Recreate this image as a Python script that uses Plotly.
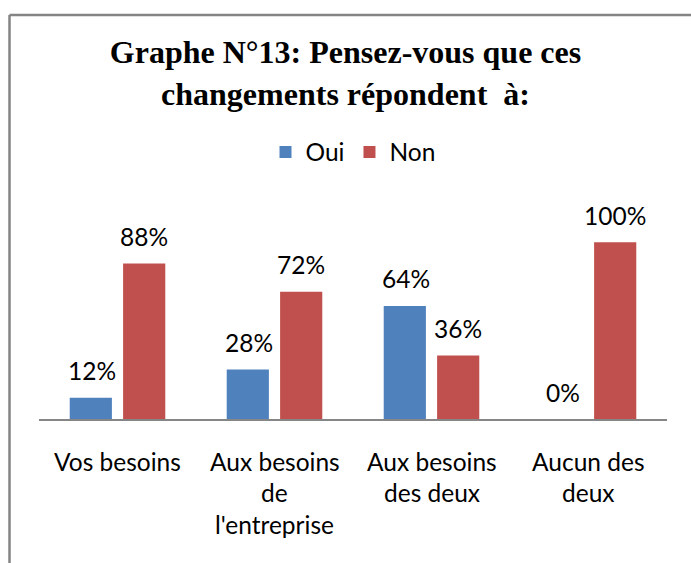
import plotly.graph_objects as go

categories = ["Vos besoins", "Aux besoins de l'entreprise", "Aux besoins des deux", "Aucun des deux"]
tick_lines = [["Vos besoins"], ["Aux besoins", "de", "l'entreprise"], ["Aux besoins", "des deux"], ["Aucun des", "deux"]]
oui = [0.12, 0.28, 0.64, 0.00]
non = [0.88, 0.72, 0.36, 1.00]
series_names = ["Oui", "Non"]
colors = ["#4F81BD", "#C0504D"]
title_text = "<b>Graphe N°13: Pensez-vous que ces<br>changements répondent  à:</b>"

W, H = 691, 563
L, R, T, B = 39, 24, 207, 144
plot_w = W - L - R
plot_h = H - T - B

LABEL_FONT = dict(family="Lato, Carlito, Calibri, sans-serif", size=24.5, color="#000000")

fig = go.Figure()
for name, vals, col in zip(series_names, [oui, non], colors):
    fig.add_trace(go.Bar(x=categories, y=vals, name=name, marker=dict(color=col, line=dict(width=0))))

annotations = []
# data labels
for k, vals in enumerate([oui, non]):
    shift = -26 if k == 0 else 26
    for c, v in zip(categories, vals):
        annotations.append(dict(x=c, y=v, xref="x", yref="y", text=f"{round(v*100)}%",
                                showarrow=False, xshift=shift, yshift=27, yanchor="middle",
                                font=LABEL_FONT))
# category labels (multi-line, wider line spacing)
for c, lines in zip(categories, tick_lines):
    for i, ln in enumerate(lines):
        annotations.append(dict(x=c, y=0, xref="x", yref="y", text=ln, showarrow=False,
                                yshift=-(42 + 31.5 * i), yanchor="middle", font=LABEL_FONT))

# border (top and left edges of the chart frame)
bx = (9.5 - L) / plot_w
by = (H - B - 15) / plot_h
shapes = [
    dict(type="line", xref="paper", yref="paper", x0=bx, x1=(W + 5 - L) / plot_w, y0=by, y1=by,
         line=dict(color="#848484", width=2.5)),
    dict(type="line", xref="paper", yref="paper", x0=bx, x1=bx, y0=by, y1=(H - B - H - 5) / plot_h,
         line=dict(color="#848484", width=2.5)),
]

fig.update_layout(
    width=W, height=H,
    margin=dict(l=L, r=R, t=T, b=B),
    paper_bgcolor="white", plot_bgcolor="white",
    barmode="group", bargap=0.32, bargroupgap=0.21,
    title=dict(text=title_text, x=0.5, xanchor="center", xref="container",
               yref="container", y=1 - 63 / H, yanchor="middle",
               font=dict(family="Liberation Serif, Times New Roman, serif", size=32, color="#000000")),
    legend=dict(orientation="h", x=0.5, xanchor="center", y=(H - B - 152) / plot_h, yanchor="middle",
                font=LABEL_FONT, itemwidth=30, traceorder="normal"),
    xaxis=dict(showline=True, linecolor="#868686", linewidth=1.5, showticklabels=False, ticks="",
               showgrid=False, zeroline=False),
    yaxis=dict(range=[0, 1.2], visible=False, showgrid=False, zeroline=False),
    annotations=annotations,
    shapes=shapes,
    showlegend=True,
)

fig.write_html("out.html", config={"displayModeBar": False},
               post_script="document.body.style.margin='0';document.body.style.overflow='hidden';")
